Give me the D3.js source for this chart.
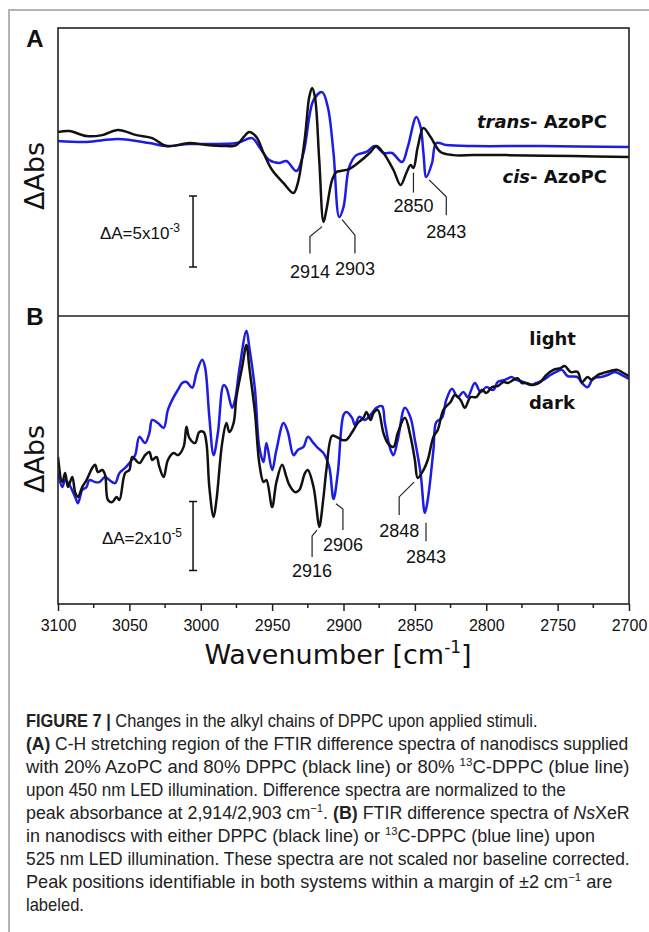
<!DOCTYPE html>
<html>
<head>
<meta charset="utf-8">
<script src="https://cdn.jsdelivr.net/npm/d3@7"></script>
<style>
  body { margin: 0; background: #fff; }
  svg { display: block; }
  text { white-space: pre; }
</style>
</head>
<body>
<div id="chart"></div>
<script>
// wavenumber axis
const tickLabels = [3100, 3050, 3000, 2950, 2900, 2850, 2800, 2750, 2700];
const minorTicks = [3075, 3025, 2975, 2925, 2875, 2825, 2775, 2725];

// panel A: [wavenumber, dAbs x1e-3]
const aDppc = [[3100,0.97],[3092,1.04],[3080,0.68],[3069,0.75],[3058,1.11],[3045,0.75],[3034,0.54],[3024,-0.02],[3008,0.19],[2996,0.05],[2984,-0.02],[2975,0.05],[2970,0.61],[2966,0.97],[2961,0.61],[2956,-0.51],[2950,-1.71],[2942,-2.63],[2935,-3.33],[2932,-2.63],[2927,0.61],[2924,3.43],[2922,4.07],[2920,3.43],[2917,-1.01],[2914,-5.38],[2912,-4.53],[2908,-2.42],[2905,-1.85],[2902,-1.78],[2896,-1.64],[2889,-1.15],[2881,-0.44],[2877,-0.02],[2872,-0.51],[2865,-1.71],[2860,-2.77],[2856,-1.92],[2853,-1.36],[2851,-1.57],[2848,-0.09],[2844,1.25],[2839,0.61],[2832,-0.44],[2823,-0.66],[2809,-0.66],[2786,-0.66],[2739,-0.73],[2700,-0.80]];
const aDppc13C = [[3100,0.33],[3080,0.26],[3058,0.47],[3036,0.19],[3024,-0.02],[3008,0.12],[2975,0.19],[2964,0.54],[2959,-0.09],[2952,-1.01],[2945,-1.22],[2940,-1.08],[2933,-1.78],[2928,-0.51],[2921,3.22],[2915,3.78],[2911,2.73],[2907,-0.51],[2903,-5.02],[2900,-4.32],[2896,-1.50],[2891,-0.66],[2884,-0.44],[2878,-0.02],[2872,-0.51],[2866,-0.51],[2859,-1.15],[2855,-0.09],[2849,2.02],[2846,1.32],[2844,-0.51],[2842,-2.21],[2838,-1.22],[2835,0.19],[2828,0.05],[2809,-0.02],[2762,-0.02],[2700,-0.09]];

// panel B: [wavenumber, dAbs x1e-5]
const bDppc = [[3100,0.09],[3097,-0.64],[3095,-0.38],[3093,-0.78],[3090,-0.49],[3088,-0.93],[3086,-1.07],[3083,-0.78],[3080,-0.58],[3076,-0.23],[3074,-0.14],[3072,-0.35],[3069,-0.29],[3067,-0.43],[3065,-1.16],[3062,-1.22],[3059,-1.07],[3057,-1.16],[3053,-0.38],[3050,-0.29],[3048,0.09],[3043,-0.09],[3039,0.14],[3036,0.23],[3034,0],[3031,0.09],[3029,-0.20],[3026,-0.49],[3023,0],[3019,0.20],[3016,0.14],[3012,0.38],[3010,0.96],[3008,0.64],[3004,0.49],[3001,0.81],[2998,0.81],[2996,0.49],[2994,-0.78],[2991,-1.65],[2989,-1.16],[2985,0.49],[2982,1.07],[2980,0.81],[2977,1.07],[2975,1.82],[2971,2.69],[2968,3.33],[2966,2.69],[2962,1.36],[2959,-0.09],[2956,-0.64],[2954,-0.58],[2950,-1.36],[2947,-0.64],[2943,-0.14],[2940,-0.49],[2938,-0.72],[2934,-0.93],[2931,-0.87],[2927,-0.38],[2925,-0.29],[2921,-0.78],[2919,-1.36],[2917,-1.94],[2914,-1.07],[2912,-0.29],[2908,0.70],[2905,0.67],[2901,0.58],[2898,0.58],[2893,0.87],[2890,1.07],[2886,1.22],[2884,1.39],[2881,1.16],[2879,1.36],[2876,1.45],[2872,0.78],[2869,0.49],[2865,0.38],[2862,0.78],[2857,1.22],[2853,0.67],[2850,0],[2848,-0.52],[2844,-0.29],[2841,0],[2837,0.67],[2834,0.87],[2830,1.45],[2825,1.68],[2822,1.88],[2818,1.74],[2815,1.51],[2811,1.82],[2807,1.82],[2803,2.03],[2800,1.94],[2796,2.11],[2792,2.14],[2788,2.26],[2785,2.23],[2781,2.32],[2778,2.37],[2775,2.23],[2772,2.23],[2767,2.17],[2762,2.26],[2758,2.46],[2753,2.61],[2748,2.66],[2745,2.72],[2741,2.55],[2736,2.55],[2733,2.26],[2729,2.40],[2726,2.32],[2722,2.46],[2718,2.52],[2713,2.58],[2708,2.61],[2704,2.52],[2700,2.43]];
const bDppc13C = [[3100,-0.38],[3097,-0.78],[3095,-0.58],[3092,-0.72],[3088,-1.07],[3086,-1.25],[3083,-0.87],[3080,-0.78],[3078,-0.58],[3074,-0.64],[3071,-0.64],[3067,-0.49],[3064,-0.58],[3060,-0.67],[3057,-0.38],[3053,-0.23],[3050,-0.09],[3046,0.14],[3043,0.67],[3039,0.49],[3036,0.78],[3034,1.16],[3030,1.07],[3026,0.93],[3023,1.45],[3019,1.82],[3016,2.03],[3013,2.23],[3010,2.26],[3006,2.09],[3003,2.52],[2999,2.90],[2997,2.69],[2994,1.25],[2991,0.14],[2988,0.78],[2984,2.17],[2982,2.09],[2978,1.51],[2976,1.74],[2973,2.61],[2968,3.74],[2966,3.27],[2962,2.03],[2959,0.38],[2956,-0.06],[2954,0.49],[2950,-0.29],[2947,0.29],[2942,1.07],[2939,0.81],[2935,0.14],[2932,0.29],[2928,0.38],[2925,0.67],[2921,0.49],[2918,0.35],[2914,0.20],[2910,-0.20],[2907,-1.13],[2904,-0.38],[2900,1.30],[2898,1.39],[2894,1.22],[2892,1.01],[2889,1.25],[2885,1.16],[2880,1.36],[2877,1.51],[2873,1.56],[2871,1.07],[2867,0.29],[2865,0.14],[2862,0.58],[2857,1.51],[2853,1.22],[2850,0.58],[2846,-0.38],[2843,-1.53],[2841,-1.16],[2837,0.29],[2835,1.10],[2831,1.22],[2828,1.74],[2824,2.06],[2820,1.82],[2816,1.97],[2813,1.82],[2808,2.23],[2804,1.97],[2800,2.11],[2795,2.03],[2792,2.26],[2787,2.32],[2782,2.40],[2779,2.32],[2774,2.26],[2769,2.17],[2765,2.23],[2760,2.32],[2755,2.46],[2751,2.55],[2747,2.61],[2743,2.43],[2736,2.40],[2733,2.23],[2729,2.11],[2725,2.37],[2720,2.40],[2715,2.46],[2710,2.55],[2705,2.46],[2700,2.35]];

// peak labels: leader points and label anchor in data units
const peaksA = [
  { label: '2914', pts: [[2915,-5.7],[2923.5,-6.4],[2923.5,-7.6]], at: [2923.5,-9.3] },
  { label: '2903', pts: [[2901,-5.2],[2892,-6.3],[2892,-7.6]], at: [2892,-9.1] },
  { label: '2850', pts: [[2851,-1.9],[2851,-3.3]], at: [2851,-4.7] },
  { label: '2843', pts: [[2840,-2.4],[2828,-3.6],[2828,-4.9]], at: [2828,-6.5] }
];
const peaksB = [
  { label: '2916', pts: [[2918.6,-2.03],[2922,-2.2],[2922,-2.81]], at: [2922,-3.39] },
  { label: '2906', pts: [[2905.3,-1.27],[2900.4,-1.42],[2900.4,-2.03]], at: [2900.4,-2.64] },
  { label: '2848', pts: [[2850.6,-0.64],[2861,-1.07],[2861,-1.59]], at: [2861,-2.23] },
  { label: '2843', pts: [[2842.2,-1.82],[2842.2,-2.35]], at: [2842.2,-2.98] }
];

const captionLines = [
  [['FIGURE 7 |','b'],[' Changes in the alkyl chains of DPPC upon applied stimuli.']],
  [['(A)','b'],[' C-H stretching region of the FTIR difference spectra of nanodiscs supplied']],
  [['with 20% AzoPC and 80% DPPC (black line) or 80% '],['13','sup'],['C-DPPC (blue line)']],
  [['upon 450 nm LED illumination. Difference spectra are normalized to the']],
  [['peak absorbance at 2,914/2,903 cm'],['\u22121','sup'],['. '],['(B)','b'],[' FTIR difference spectra of '],['Ns','i'],['XeR']],
  [['in nanodiscs with either DPPC (black line) or '],['13','sup'],['C-DPPC (blue line) upon']],
  [['525 nm LED illumination. These spectra are not scaled nor baseline corrected.']],
  [['Peak positions identifiable in both systems within a margin of \u00b12 cm'],['\u22121','sup'],[' are']],
  [['labeled.']]
];
const captionEnds = [538, 629, 630, 566, 630, 595, 630, 613, 84];

const W = 649, H = 932;
const plotL = 58, plotR = 629, plotT = 28, plotM = 316, plotB = 604;
const BLACK = '#111', BLUE = '#1c1ce3';
const arial = '"Liberation Sans", Arial, sans-serif';
const dejavu = '"DejaVu Sans", Verdana, sans-serif';

const x = d3.scaleLinear().domain([3100, 2700]).range([plotL, plotR]);
const yA = d3.scaleLinear().domain([-12, 8.3]).range([plotM, plotT]);
const yB = d3.scaleLinear().domain([-4.17, 4.17]).range([plotB, plotM]);

const svg = d3.select('#chart').append('svg')
    .attr('width', W).attr('height', H);

// page frame
svg.append('path')
    .attr('d', `M9,${H} V10 H${W}`)
    .attr('fill', 'none').attr('stroke', '#b4b4b4').attr('stroke-width', 2);

const defs = svg.append('defs');
defs.append('clipPath').attr('id', 'clipA').append('rect')
    .attr('x', plotL).attr('y', plotT).attr('width', plotR - plotL).attr('height', plotM - plotT);
defs.append('clipPath').attr('id', 'clipB').append('rect')
    .attr('x', plotL).attr('y', plotM).attr('width', plotR - plotL).attr('height', plotB - plotM);

function drawPanel(y, series, clip, peaks) {
    const line = d3.line()
        .x(d => x(d[0]))
        .y(d => y(d[1]))
        .curve(d3.curveCatmullRom.alpha(0.5));
    const g = svg.append('g').attr('clip-path', `url(#${clip})`);
    series.forEach(s => {
        g.append('path')
            .attr('d', line(s.data))
            .attr('fill', 'none')
            .attr('stroke', s.color)
            .attr('stroke-width', 2.5)
            .attr('stroke-linejoin', 'round');
    });
    const lead = d3.line().x(d => x(d[0])).y(d => y(d[1]));
    peaks.forEach(p => {
        svg.append('path')
            .attr('d', lead(p.pts))
            .attr('fill', 'none').attr('stroke', '#222').attr('stroke-width', 1.2);
        svg.append('text')
            .attr('x', x(p.at[0])).attr('y', y(p.at[1]))
            .attr('text-anchor', 'middle')
            .style('font', `18px ${arial}`)
            .attr('fill', '#111')
            .text(p.label);
    });
}

drawPanel(yA, [{ data: aDppc13C, color: BLUE }, { data: aDppc, color: BLACK }], 'clipA', peaksA);
drawPanel(yB, [{ data: bDppc13C, color: BLUE }, { data: bDppc, color: BLACK }], 'clipB', peaksB);

// scale bars
function scaleBar(y, wn, v0, v1, labelWn, labelV, base, exp) {
    const xb = x(wn);
    svg.append('path')
        .attr('d', `M${xb - 4},${y(v0)} H${xb + 4} M${xb},${y(v0)} V${y(v1)} M${xb - 4},${y(v1)} H${xb + 4}`)
        .attr('fill', 'none').attr('stroke', '#111').attr('stroke-width', 1.5);
    const t = svg.append('text')
        .attr('x', x(labelWn)).attr('y', y(labelV))
        .attr('text-anchor', 'end')
        .style('font', `17px ${arial}`).attr('fill', '#111');
    t.append('tspan').text(base);
    t.append('tspan').attr('dy', -7).style('font-size', '12px').text(exp);
}
scaleBar(yA, 3005.4, -3.55, -8.55, 3014.5, -6.6, '\u0394A=5x10', '-3');
scaleBar(yB, 3005.4, -1.2, -3.2, 3013.1, -2.43, '\u0394A=2x10', '-5');

// series labels
function label(y, wn, v, anchor, parts) {
    const t = svg.append('text')
        .attr('x', x(wn)).attr('y', y(v))
        .attr('text-anchor', anchor)
        .style('font', `bold 18px ${dejavu}`).attr('fill', '#111');
    parts.forEach(p => t.append('tspan').style('font-style', p[1] ? 'italic' : 'normal').text(p[0]));
}
label(yA, 2715.4, 1.25, 'end', [['trans', 1], ['- AzoPC']]);
label(yA, 2715.4, -2.63, 'end', [['cis', 1], ['- AzoPC']]);
label(yB, 2753.5, 3.33, 'middle', [['light']]);
label(yB, 2754, 1.48, 'middle', [['dark']]);

// frame
svg.append('rect')
    .attr('x', plotL).attr('y', plotT).attr('width', plotR - plotL).attr('height', plotB - plotT)
    .attr('fill', 'none').attr('stroke', '#222').attr('stroke-width', 1.6);
svg.append('line')
    .attr('x1', plotL).attr('x2', plotR).attr('y1', plotM).attr('y2', plotM)
    .attr('stroke', '#222').attr('stroke-width', 1.6);

// x axis
const axis = svg.append('g')
    .attr('transform', `translate(0,${plotB})`)
    .call(d3.axisBottom(x).tickValues(tickLabels).tickFormat(d3.format('d'))
        .tickSize(7).tickSizeOuter(0).tickPadding(9));
axis.select('.domain').remove();
axis.selectAll('line').attr('stroke', '#222').attr('stroke-width', 1.5);
axis.selectAll('text').style('font', `16px ${arial}`).attr('fill', '#111');
svg.append('g')
    .attr('transform', `translate(0,${plotB})`)
    .selectAll('line').data(minorTicks).join('line')
    .attr('x1', d => x(d)).attr('x2', d => x(d))
    .attr('y1', 0).attr('y2', 4)
    .attr('stroke', '#222').attr('stroke-width', 1.5);

const xt = svg.append('text')
    .attr('x', 338).attr('y', 664)
    .attr('text-anchor', 'middle')
    .style('font', `27px ${dejavu}`).attr('fill', '#111');
xt.append('tspan').text('Wavenumber [cm');
xt.append('tspan').attr('dy', -11).style('font-size', '17px').text('-1');
xt.append('tspan').attr('dy', 11).text(']');

// y titles and panel letters
[176, 459].forEach(cy => {
    svg.append('text')
        .attr('transform', `translate(44,${cy}) rotate(-90)`)
        .attr('text-anchor', 'middle')
        .style('font', `27px ${dejavu}`).attr('fill', '#111')
        .text('\u0394Abs');
});
[['A', 47], ['B', 325]].forEach(([t, yy]) => {
    svg.append('text')
        .attr('x', 35).attr('y', yy)
        .attr('text-anchor', 'middle')
        .style('font', `bold 24px ${arial}`).attr('fill', '#111')
        .text(t);
});

// caption
captionLines.forEach((parts, i) => {
    const t = svg.append('text')
        .attr('x', 0).attr('y', 0)
        .style('font', `17.5px ${arial}`).attr('fill', '#222');
    let up = false;
    parts.forEach(p => {
        const s = t.append('tspan').text(p[0]);
        if (p[1] === 'b') s.style('font-weight', 'bold');
        if (p[1] === 'i') s.style('font-style', 'italic');
        if (p[1] === 'sup') { s.attr('dy', -7).style('font-size', '11px'); up = true; }
        else if (up) { s.attr('dy', 7); up = false; }
    });
    const w = t.node().getComputedTextLength();
    const k = (captionEnds[i] - 26) / w;
    t.attr('transform', `translate(26,${727 + i * 23}) scale(${k},1)`);
});
</script>
</body>
</html>
